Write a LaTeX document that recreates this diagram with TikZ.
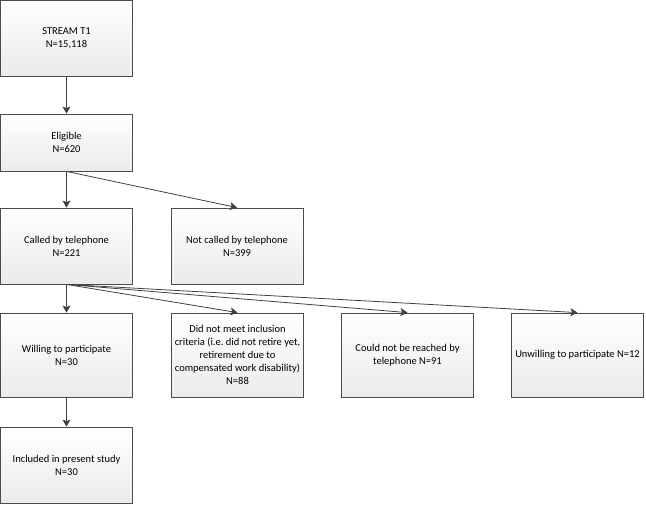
\documentclass[tikz,border=0pt]{standalone}
\usepackage{fontspec}
\setmainfont{Carlito}
\usetikzlibrary{arrows.meta}

\begin{document}
\begin{tikzpicture}[x = 1pt, y = -1pt,
    box/.style = {draw = black!70, line width = 0.8pt, top color = white, bottom color = black!8,
        align = center, inner sep = 2pt, minimum width = 132pt, font = \fontsize{10.5}{13}\selectfont},
    conn/.style = {draw = black!75, line width = 0.8pt, -{Stealth[width = 8pt, length = 7pt, inset = 1.5pt]}}]
    \useasboundingbox (0, 0) rectangle (646, 506);
    % the boxes, row by row
    \foreach \nm/\x/\y/\h/\txt in {
        stream/66.5/38/76/{STREAM T1\\N=15,118},
        eligible/66.5/142.5/57/{Eligible\\N=620},
        called/66.5/246/76/{Called by telephone\\N=221},
        notcalled/237/246/76/{Not called by telephone\\N=399},
        willing/66.5/355/84/{Willing to participate\\N=30},
        criteria/237.5/355/84/{Did not meet inclusion\\criteria (i.e.\ did not retire yet,\\retirement due to\\compensated work disability)\\N=88},
        unreached/407.5/355/84/{Could not be reached by\\telephone N=91},
        unwilling/577.5/355/84/{Unwilling to participate N=12},
        included/66.5/465/76/{Included in present study\\N=30}}{
        \node[box, minimum height = \h pt] (\nm) at (\x, \y) {\txt};
    }
    % connectors
    \draw[conn] (stream) -- (eligible);
    \draw[conn] (eligible) -- (called);
    \draw[conn] (eligible.south) -- (notcalled.north);
    \draw[conn] (called) -- (willing);
    \foreach \t in {criteria, unreached, unwilling}{
        \draw[conn] (called.south) -- (\t.north);
    }
    \draw[conn] (willing) -- (included);
\end{tikzpicture}
\end{document}
